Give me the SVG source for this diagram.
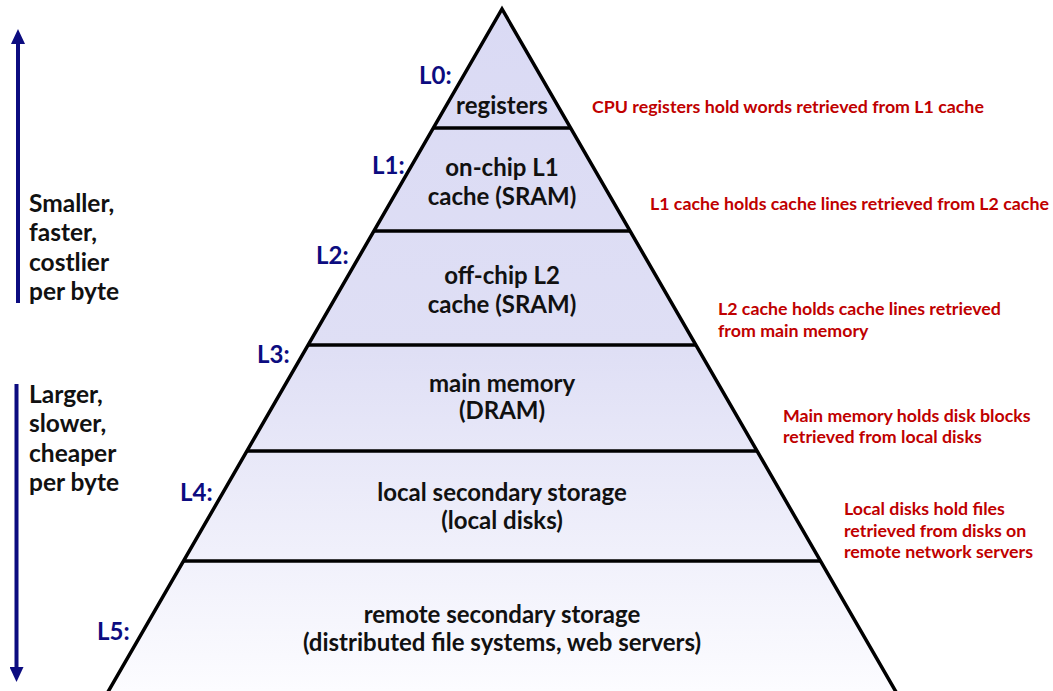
<svg xmlns="http://www.w3.org/2000/svg" width="1053" height="691" viewBox="0 0 1053 691">
<style>
.lvl{font-family:Lato,"Liberation Sans",sans-serif;font-weight:bold;font-size:24px;fill:#111;text-anchor:middle}
.tag{font-family:Lato,"Liberation Sans",sans-serif;font-weight:bold;font-size:24px;fill:#0c0c80}
.note{font-family:Lato,"Liberation Sans",sans-serif;font-weight:bold;font-size:17.8px;fill:#c00000}
.side{font-family:Lato,"Liberation Sans",sans-serif;font-weight:bold;font-size:24.5px;fill:#111}
.edge{stroke:#000;stroke-width:3.5;fill:none;stroke-linejoin:miter}
.arrow{stroke:#0c0c80;stroke-width:4;fill:none}
</style>
<defs>
<linearGradient id="g" gradientUnits="userSpaceOnUse" x1="0" y1="9" x2="0" y2="691">
<stop offset="0" stop-color="#dadaf4"/>
<stop offset="0.5" stop-color="#dfdff5"/>
<stop offset="1" stop-color="#fcfcff"/>
</linearGradient>
<marker id="ah" viewBox="0 0 15 14" markerWidth="15" markerHeight="14" refX="1" refY="7" orient="auto" markerUnits="userSpaceOnUse">
<path d="M0,0 L15,7 L0,14 z" fill="#0c0c80"/>
</marker>
</defs>
<rect width="1053" height="691" fill="#fff"/>

<g id="L0">
<polygon points="502,9 433.3,128 570.7,128" fill="url(#g)"/>
<text class="lvl" x="502" y="114">registers</text>
<text class="tag" x="419" y="84">L0:</text>
<text class="note" x="592" y="113">CPU registers hold words retrieved from L1 cache</text>
</g>
<g id="L1">
<polygon points="433.3,128 570.7,128 630,231 374,231" fill="url(#g)"/>
<text class="lvl" x="502" y="176">on-chip L1</text>
<text class="lvl" x="502" y="205">cache (SRAM)</text>
<text class="tag" x="372" y="174">L1:</text>
<text class="note" x="650" y="210">L1 cache holds cache lines retrieved from L2 cache</text>
</g>
<g id="L2">
<polygon points="374,231 630,231 695.9,345 308.1,345" fill="url(#g)"/>
<text class="lvl" x="502" y="284">off-chip L2</text>
<text class="lvl" x="502" y="313">cache (SRAM)</text>
<text class="tag" x="316" y="264">L2:</text>
<text class="note" x="718" y="315">L2 cache holds cache lines retrieved</text>
<text class="note" x="718" y="337">from main memory</text>
</g>
<g id="L3">
<polygon points="308.1,345 695.9,345 757,451 247,451" fill="url(#g)"/>
<text class="lvl" x="502" y="392">main memory</text>
<text class="lvl" x="502" y="419">(DRAM)</text>
<text class="tag" x="257" y="363">L3:</text>
<text class="note" x="783" y="422">Main memory holds disk blocks</text>
<text class="note" x="783" y="443">retrieved from local disks</text>
</g>
<g id="L4">
<polygon points="247,451 757,451 820.5,561 183.5,561" fill="url(#g)"/>
<text class="lvl" x="502" y="501">local secondary storage</text>
<text class="lvl" x="502" y="529">(local disks)</text>
<text class="tag" x="180" y="501">L4:</text>
<text class="note" x="844" y="515">Local disks hold files</text>
<text class="note" x="844" y="537">retrieved from disks on</text>
<text class="note" x="844" y="558">remote network servers</text>
</g>
<g id="L5">
<polygon points="183.5,561 820.5,561 900.7,700 103.3,700" fill="url(#g)"/>
<text class="lvl" x="502" y="623">remote secondary storage</text>
<text class="lvl" x="502" y="651">(distributed file systems, web servers)</text>
<text class="tag" x="97" y="640">L5:</text>
</g>

<g id="outline">
<polyline class="edge" points="103.3,700 502,9 900.7,700"/>
<line class="edge" x1="433.3" y1="128" x2="570.7" y2="128"/>
<line class="edge" x1="374" y1="231" x2="630" y2="231"/>
<line class="edge" x1="308.1" y1="345" x2="695.9" y2="345"/>
<line class="edge" x1="247" y1="451" x2="757" y2="451"/>
<line class="edge" x1="183.5" y1="561" x2="820.5" y2="561"/>
</g>

<g id="side-top">
<text class="side" x="29" y="212">Smaller,</text>
<text class="side" x="29" y="241">faster,</text>
<text class="side" x="29" y="271">costlier</text>
<text class="side" x="29" y="300">per byte</text>
</g>
<g id="side-bottom">
<text class="side" x="29" y="403">Larger,</text>
<text class="side" x="29" y="432">slower,</text>
<text class="side" x="29" y="462">cheaper</text>
<text class="side" x="29" y="491">per byte</text>
</g>

<g id="connectors">
<line class="arrow" x1="18" y1="303" x2="18" y2="43" marker-end="url(#ah)"/>
<line class="arrow" x1="16.5" y1="384" x2="16.5" y2="668" marker-end="url(#ah)"/>
</g>
</svg>
